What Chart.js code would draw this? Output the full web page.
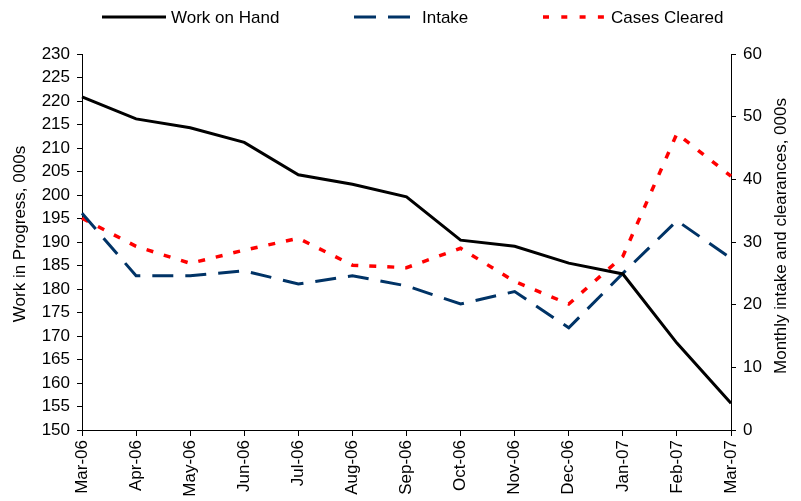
<!DOCTYPE html>
<html>
<head>
<meta charset="utf-8">
<script src="https://cdn.jsdelivr.net/npm/chart.js@4.4.0/dist/chart.umd.min.js"></script>
<style>
  body { margin: 0; background: #fff; }
  canvas { display: block; }
</style>
</head>
<body>
<canvas id="myChart" width="801" height="501"></canvas>
<script>
const months = ['Mar-06', 'Apr-06', 'May-06', 'Jun-06', 'Jul-06', 'Aug-06', 'Sep-06',
  'Oct-06', 'Nov-06', 'Dec-06', 'Jan-07', 'Feb-07', 'Mar-07'];
const workOnHand = [220.9, 216.2, 214.3, 211.2, 204.3, 202.3, 199.6, 190.4, 189.1, 185.5, 183.2, 168.5, 155.7];
const intake = [34.6, 24.6, 24.6, 25.4, 23.3, 24.6, 23.0, 20.1, 22.1, 16.3, 25.0, 33.4, 27.4];
const casesCleared = [33.8, 29.3, 26.6, 28.7, 30.6, 26.3, 25.9, 29.0, 23.7, 20.1, 27.7, 47.3, 40.5];

const leftTitle = 'Work in Progress, 000s';
const rightTitle = 'Monthly intake and clearances, 000s';

const FONT = '"Liberation Sans", Arial, sans-serif';

// legend + rotated axis titles drawn by hand
const extras = {
  id: 'extras',
  afterDraw(chart) {
    const c = chart.ctx;
    const spots = [[102, 166, 171], [354, 410, 422], [543, 604, 611]];
    c.save();
    chart.data.datasets.forEach((ds, i) => {
      const s = spots[i];
      c.beginPath();
      c.strokeStyle = ds.borderColor;
      c.lineWidth = ds.borderWidth;
      c.setLineDash(ds.legendDash || []);
      c.moveTo(s[0], 17);
      c.lineTo(s[1], 17);
      c.stroke();
      c.setLineDash([]);
      c.fillStyle = '#000';
      c.font = '17px ' + FONT;
      c.textBaseline = 'alphabetic';
      c.textAlign = 'left';
      c.fillText(ds.label, s[2], 23);
    });

    c.font = '17px ' + FONT;
    c.textAlign = 'center';
    c.textBaseline = 'middle';
    c.translate(20, 234);
    c.rotate(-Math.PI / 2);
    c.fillText(leftTitle, 0, 0);
    c.restore();

    c.save();
    c.font = '17px ' + FONT;
    c.fillStyle = '#000';
    c.textAlign = 'center';
    c.textBaseline = 'middle';
    c.translate(781, 236);
    c.rotate(-Math.PI / 2);
    c.fillText(rightTitle, 0, 0);
    c.restore();
  }
};

const data = {
  labels: months,
  datasets: [
    {
      label: 'Work on Hand',
      data: workOnHand,
      yAxisID: 'y',
      borderColor: '#000000',
      borderWidth: 3,
      pointRadius: 0,
      tension: 0,
      fill: false
    },
    {
      label: 'Intake',
      data: intake,
      yAxisID: 'y1',
      borderColor: '#003366',
      borderWidth: 3,
      borderDash: [21, 12],
      legendDash: [22, 12],
      pointRadius: 0,
      tension: 0,
      fill: false
    },
    {
      label: 'Cases Cleared',
      data: casesCleared,
      yAxisID: 'y1',
      borderColor: '#ff0000',
      borderWidth: 3.5,
      borderDash: [7, 11],
      legendDash: [6, 12.3],
      pointRadius: 0,
      tension: 0,
      fill: false
    }
  ]
};

const tickFont = { family: FONT, size: 17 };

const config = {
  type: 'line',
  data: data,
  plugins: [extras],
  options: {
    responsive: false,
    animation: false,
    devicePixelRatio: 1,
    layout: { padding: { top: 54, left: 0, right: 0, bottom: 0 } },
    plugins: {
      legend: { display: false },
      tooltip: { enabled: false }
    },
    scales: {
      x: {
        offset: false,
        grid: { display: true, drawOnChartArea: false, drawTicks: true, tickLength: 6, color: '#000' },
        border: { display: true, color: '#000', width: 1 },
        ticks: { color: '#000', font: tickFont, minRotation: 90, maxRotation: 90, autoSkip: false, padding: 4 },
        afterFit(scale) { scale.height = 71; }
      },
      y: {
        position: 'left',
        min: 150,
        max: 230,
        grid: { display: true, drawOnChartArea: false, drawTicks: true, tickLength: 5, color: '#000' },
        border: { display: true, color: '#000', width: 1 },
        ticks: { color: '#000', font: tickFont, stepSize: 5, padding: 7 },
        afterFit(scale) { scale.width = 82; }
      },
      y1: {
        position: 'right',
        min: 0,
        max: 60,
        grid: { display: true, drawOnChartArea: false, drawTicks: true, tickLength: 5, color: '#000' },
        border: { display: true, color: '#000', width: 1 },
        ticks: { color: '#000', font: tickFont, stepSize: 10, padding: 7 },
        afterFit(scale) { scale.width = 70; }
      }
    }
  }
};

const ctx = document.getElementById('myChart');
new Chart(ctx, config);
</script>
</body>
</html>
